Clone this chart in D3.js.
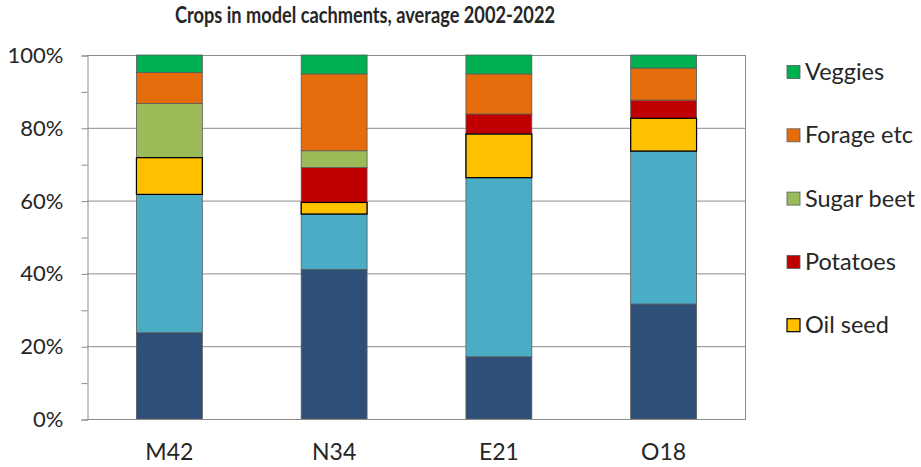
<!DOCTYPE html>
<html><head><meta charset="utf-8">
<script src="https://cdn.jsdelivr.net/npm/d3@7"></script>
<style>body{margin:0;background:#fff}svg{display:block}text{font-family:Lato,"Open Sans",sans-serif;fill:#262626}</style>
</head><body>
<script>
const categories = ["M42","N34","E21","O18"];
const seriesNames = ["Cereals","Grass","Oil seed","Potatoes","Sugar beet","Forage etc","Veggies"];
const cereals   = [23.7, 41.1, 17.1, 31.6];
const grass     = [38.0, 15.2, 49.2, 42.0];
const oilSeed   = [10.1,  3.2, 12.0,  9.0];
const potatoes  = [ 0.0,  9.6,  5.5,  5.0];
const sugarBeet = [14.9,  4.6,  0.0,  0.0];
const forage    = [ 8.5, 21.1, 11.0,  8.8];
const veggies   = [ 4.8,  5.2,  5.2,  3.6];
const colors = ["#2E4F77","#4BACC6","#FFC000","#C00000","#9BBB59","#E46C0A","#00B050"];
const legendItems = ["Veggies","Forage etc","Sugar beet","Potatoes","Oil seed"];
const yTicks = [0,20,40,60,80,100];
const title = "Crops in model cachments, average 2002-2022";

const W=921,H=467;
const svg=d3.select("body").append("svg").attr("width",W).attr("height",H);
const m={l:87,r:746,t:55,b:419};
const x=d3.scaleBand().domain(categories).range([m.l,m.r]).paddingInner(0.6).paddingOuter(0.3);
const y=d3.scaleLinear().domain([0,100]).range([m.b,m.t]);

const vals=[cereals,grass,oilSeed,potatoes,sugarBeet,forage,veggies];
const table=categories.map((c,i)=>{const o={cat:c};seriesNames.forEach((s,j)=>o[s]=vals[j][i]);return o;});
const stacked=d3.stack().keys(seriesNames)(table);

// gridlines
svg.append("g").selectAll("line").data(yTicks.slice(1)).join("line")
  .attr("x1",m.l).attr("x2",m.r).attr("y1",d=>y(d)+0.5).attr("y2",d=>y(d)+0.5)
  .attr("stroke","#8C8C8C").attr("stroke-width",1);
// right border
svg.append("line").attr("x1",m.r-0.5).attr("x2",m.r-0.5).attr("y1",m.t).attr("y2",m.b).attr("stroke","#8C8C8C");

// y axis
const yAxis=d3.axisLeft(y).tickValues(d3.range(0,101,10)).tickSize(6).tickFormat(d=>d%20===0?d+"%":"");
const ga=svg.append("g").attr("transform",`translate(${m.l+0.5},0.5)`).call(yAxis);
ga.select(".domain").attr("stroke","#8C8C8C");
ga.selectAll(".tick line").attr("stroke","#8C8C8C");
ga.selectAll(".tick text").attr("x",-24).attr("font-size",22).attr("fill","#262626").style("font-family","Lato,sans-serif");

// bars
svg.append("g").selectAll("g").data(stacked).join("g")
  .attr("fill",(d,i)=>colors[i])
  .selectAll("rect").data(d=>d.filter(p=>p[1]-p[0]>0).map(p=>Object.assign(p,{key:d.key}))).join("rect")
  .attr("x",d=>x(d.data.cat)).attr("width",x.bandwidth())
  .attr("y",d=>y(d[1])).attr("height",d=>y(d[0])-y(d[1]))
  .attr("stroke","#5a5a5a")
  .attr("stroke-width",0.8);
// oil seed outline on top
svg.append("g").selectAll("rect").data(stacked[2].filter(p=>p[1]-p[0]>0)).join("rect")
  .attr("x",d=>x(d.data.cat)).attr("width",x.bandwidth())
  .attr("y",d=>y(d[1])).attr("height",d=>y(d[0])-y(d[1]))
  .attr("fill","none").attr("stroke","#000").attr("stroke-width",1.2);

// x axis line
svg.append("line").attr("x1",m.l).attr("x2",m.r).attr("y1",m.b+0.5).attr("y2",m.b+0.5).attr("stroke","#8C8C8C");
svg.append("g").selectAll("text").data(categories).join("text")
  .attr("x",d=>x(d)+x.bandwidth()/2).attr("y",460).attr("text-anchor","middle").attr("font-size",23).text(d=>d);

// title
svg.append("text").attr("x",365).attr("y",23).attr("text-anchor","middle").attr("font-size",22.5)
  .attr("textLength",380).attr("lengthAdjust","spacingAndGlyphs")
  .attr("font-weight","bold").attr("fill","#000").text(title);

// legend
const lg=svg.append("g").selectAll("g").data(legendItems).join("g")
  .attr("transform",(d,i)=>`translate(787,${72+i*63.3})`);
lg.append("rect").attr("x",0).attr("y",-6.5).attr("width",13).attr("height",13)
  .attr("fill",d=>colors[seriesNames.indexOf(d)])
  .attr("stroke",d=>d==="Oil seed"?"#000":"#5a5a5a").attr("stroke-width",d=>d==="Oil seed"?1.2:0.8);
lg.append("text").attr("x",18).attr("y",8).attr("font-size",23.5).text(d=>d);
</script>
</body></html>
